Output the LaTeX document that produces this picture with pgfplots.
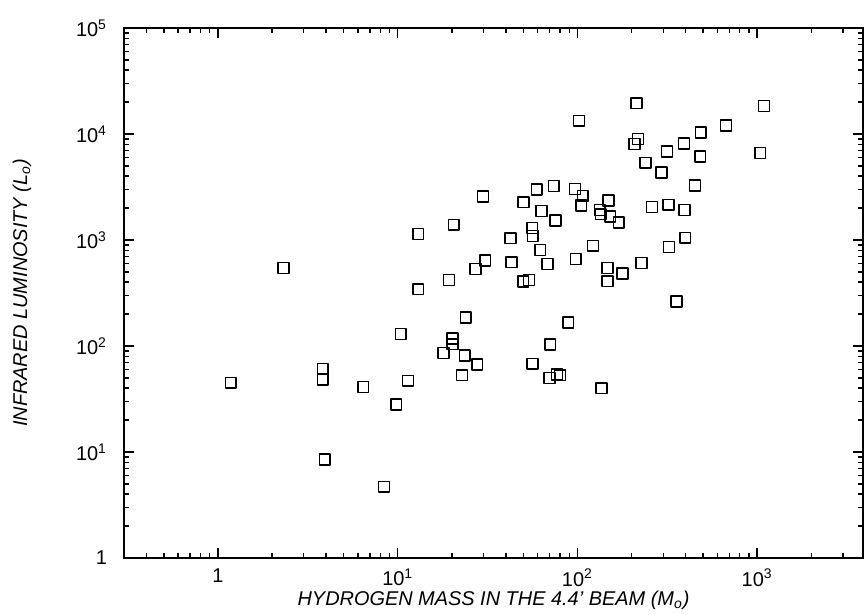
\documentclass[border=0pt]{standalone}
\usepackage{fontspec}
\setmainfont{Liberation Sans}
\usepackage{pgfplots}
\pgfplotsset{compat=1.18}
\begin{document}
\begin{tikzpicture}
\begin{axis}[name=ax, scale only axis, width=369.5bp, height=265bp,
  xmode=log, ymode=log, xmin=0.3, xmax=3880, ymin=1, ymax=1e5,
  axis line style={line width=0.9bp},
  every tick/.style={black, line width=0.7bp},
  major tick length=5bp, minor tick length=2.6bp,
  xtick={1,10,100,1000},
  xticklabels={1,10\textsuperscript{1},10\textsuperscript{2},10\textsuperscript{3}},
  minor xtick={0.4,0.5,0.6,0.7,0.8,0.9,2,3,4,5,6,7,8,9,20,30,40,50,60,70,80,90,200,300,400,500,600,700,800,900,2000,3000},
  ytick={1,10,100,1000,10000,100000},
  yticklabels={1,10\textsuperscript{1},10\textsuperscript{2},10\textsuperscript{3},10\textsuperscript{4},10\textsuperscript{5}},
  minor ytick={2,3,4,5,6,7,8,9,20,30,40,50,60,70,80,90,200,300,400,500,600,700,800,900,2000,3000,4000,5000,6000,7000,8000,9000,20000,30000,40000,50000,60000,70000,80000,90000},
  tick label style={font=\fontsize{10}{11}\selectfont},
  xticklabel style={yshift=-2bp},
  yticklabel style={xshift=-5bp},
  xlabel={HYDROGEN MASS IN THE 4.4' BEAM (\textit{M}\textsubscript{o})},
  ylabel={INFRARED LUMINOSITY (\textit{L}\textsubscript{o})},
  label style={font=\fontsize{10}{11}\selectfont\itshape},
  xlabel style={at={(axis description cs:0.5,-0.08)}, anchor=center},
  ylabel style={at={(axis description cs:-0.138,0.5)}, anchor=center},
]
\addplot[only marks, mark=square, mark size=2.7bp,
  mark options={line width=0.8bp, line join=round, black}] table {
x y
1.18 45
2.31 545
3.83 61
3.83 48.5
3.93 8.5
6.42 41
8.4 4.7
9.8 28
10.4 130
11.4 47
13 1140
13 343
18 86
19.3 420
20.2 118
20.2 104
20.5 1390
22.8 53
23.9 185
23.6 81
27.1 532
27.7 67
29.8 2580
30.7 638
42.4 1040
43 617
50 2270
49.9 405
53.7 420
56 1300
56.5 1090
59.4 3000
63 1880
62 806
68 594
56.2 68
70.5 103
70 50
73.8 3230
75.5 1530
77 54
80 53
88.8 167
102 13300
97 3030
98 662
107 2600
105 2110
122 880
133 1920
135 1750
136 40
149 2350
152 1660
147 545
147 408
170 1460
178 485
213 19500
217 8970
208 8050
227 607
239 5360
260 2050
293 4350
315 6810
321 2150
323 860
356 262
392 8100
394 1920
398 1050
451 3280
482 6110
486 10300
670 12000
1040 6620
1090 18400
};
\end{axis}
\pgfresetboundingbox
\path ([shift={(-62bp,-28.5bp)}]ax.south west) rectangle ([shift={(0.5bp,14bp)}]ax.north east);
\end{tikzpicture}
\end{document}
